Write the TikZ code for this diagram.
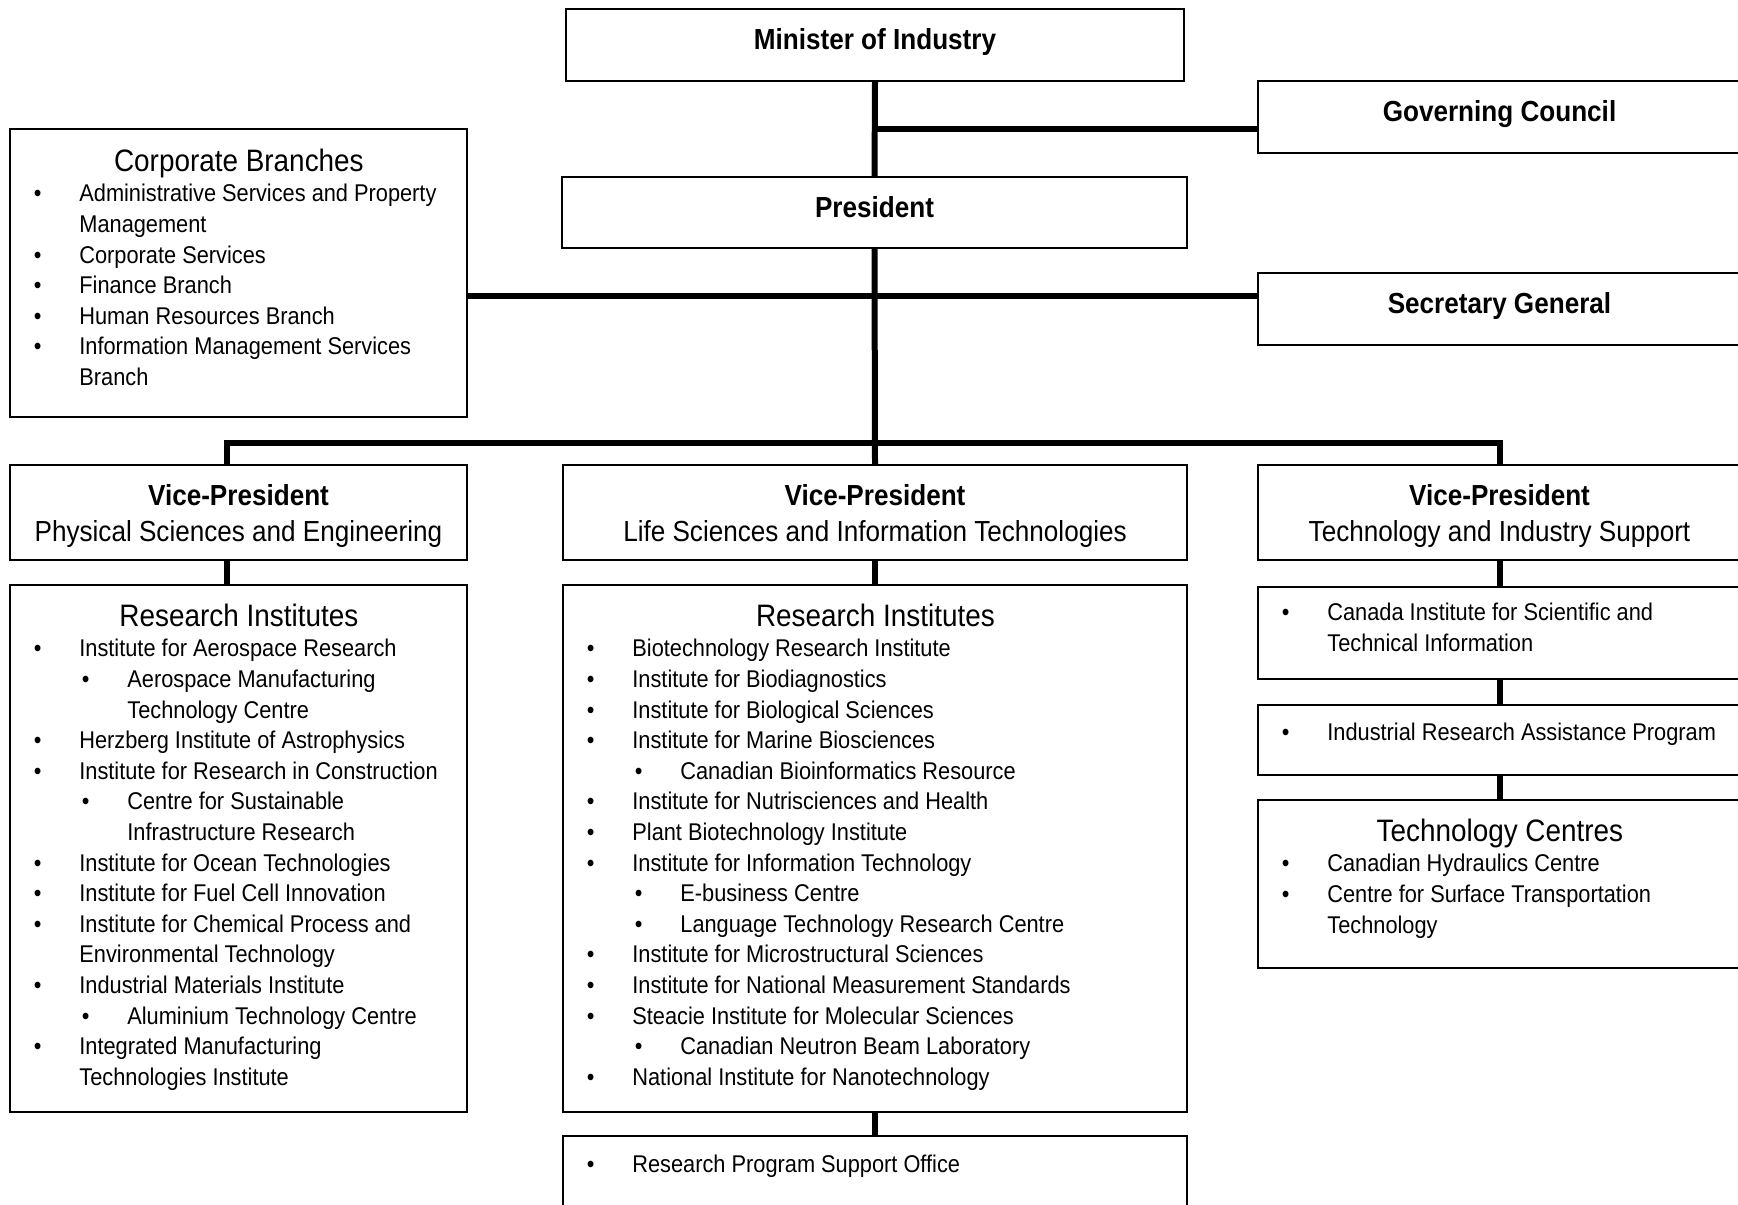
\documentclass[tikz,border=0pt]{standalone}
\usepackage{fontspec}
\setmainfont{Liberation Sans}[FakeStretch=0.9]
\usetikzlibrary{fit}

% fonts of the chart
\newcommand{\headfont}{\fontsize{14.5}{15.3}\selectfont\bfseries}
\newcommand{\sectfont}{\fontsize{15.5}{15.3}\selectfont}
\newcommand{\listfont}{\fontsize{12.1}{15.3}\selectfont}
% bullet items, first and second level
\newcommand{\itm}[1]{{\leftskip=34.5pt\rightskip=0pt plus 1fil\noindent\llap{\textbullet\hspace{19pt}}#1\par}}
\newcommand{\subitm}[1]{{\leftskip=58.5pt\rightskip=0pt plus 1fil\noindent\llap{\textbullet\hspace{19pt}}#1\par}}

\tikzset{
  box/.style={draw, line width=1.1pt, inner sep=0pt, outer sep=0pt},
  link/.style={line width=3pt},
  lbl/.style={inner sep=0pt, anchor=base},
  lst/.style={inner sep=0pt, anchor=base west}
}

\begin{document}
\begin{tikzpicture}[x=0.5pt, y=-0.5pt]
	 \clip (0, 0) rectangle (1738, 1204);

	 % boxes
	 \node[box, fit={(566, 9) (1184, 81)}] (minister) {};
	 \node[box, fit={(1258, 81) (1741, 153)}] (governing) {};
	 \node[box, fit={(562, 177) (1187, 248)}] (president) {};
	 \node[box, fit={(1258, 273) (1741, 345)}] (secretary) {};
	 \node[box, fit={(10, 129) (467, 417)}] (corporate) {};
	 \node[box, fit={(10, 465) (467, 560)}] (vp1) {};
	 \node[box, fit={(563, 465) (1187, 560)}] (vp2) {};
	 \node[box, fit={(1258, 465) (1741, 560)}] (vp3) {};
	 \node[box, fit={(10, 585) (467, 1112)}] (ri1) {};
	 \node[box, fit={(563, 585) (1187, 1112)}] (ri2) {};
	 \node[box, fit={(563, 1136) (1187, 1220)}] (rpso) {};
	 \node[box, fit={(1258, 587) (1741, 679)}] (cisti) {};
	 \node[box, fit={(1258, 705) (1741, 775)}] (irap) {};
	 \node[box, fit={(1258, 800) (1741, 968)}] (techc) {};

	 % connectors
	 \coordinate (busleft) at (227, 443);
	 \coordinate (busright) at (1499.5, 443);
	 \draw[link] (minister.south) -- (president.north);
	 \draw[link] ([yshift=-6pt]governing.west) -- ([yshift=-6pt]governing.west -| minister.south);
	 \draw[link] ([yshift=-11.5pt]corporate.east) -- ([yshift=-11.5pt]corporate.east -| secretary.west);
	 \draw[link] (president.south) -- (vp2.north);
	 \draw[link] (busleft |- vp1.north) -- (busleft) -- (busright) -- (vp3.north);
	 \draw[link] (vp1.south -| busleft) -- (ri1.north -| busleft);
	 \draw[link] (vp2.south) -- (ri2.north);
	 \draw[link] (ri2.south) -- (rpso.north);
	 \draw[link] (vp3.south) -- (cisti.north);
	 \draw[link] (cisti.south) -- (irap.north);
	 \draw[link] (irap.south) -- (techc.north);

	 % top titles
	 \node[lbl] (ministerlbl) at ([yshift=-20.25pt]minister.north) {\headfont Minister of Industry};
	 \node[lbl] (governinglbl) at ([yshift=-20.25pt]governing.north) {\headfont Governing Council};
	 \node[lbl] (presidentlbl) at ([yshift=-20.25pt]president.north) {\headfont President};
	 \node[lbl] (secretarylbl) at ([yshift=-20.25pt]secretary.north) {\headfont Secretary General};

	 \node[lst] (corporatelbl) at ([yshift=-21.1pt]corporate.north west) {\parbox[t]{228.5pt}{\listfont
	   {\centering\sectfont Corporate Branches\par}
	   \itm{Administrative Services and Property\\Management}
	   \itm{Corporate Services}
	   \itm{Finance Branch}
	   \itm{Human Resources Branch}
	   \itm{Information Management Services\\Branch}}};

	 % vice-presidents
	 \node[lbl] (vp1lbl) at ([yshift=-20.2pt]vp1.north) {\parbox[t]{228.5pt}{\centering\fontsize{14.5}{18}\selectfont
	   \textbf{Vice-President}\\Physical Sciences and Engineering}};
	 \node[lbl] (vp2lbl) at ([yshift=-20.2pt]vp2.north) {\parbox[t]{312pt}{\centering\fontsize{14.5}{18}\selectfont
	   \textbf{Vice-President}\\Life Sciences and Information Technologies}};
	 \node[lbl] (vp3lbl) at ([yshift=-20.2pt]vp3.north) {\parbox[t]{241.5pt}{\centering\fontsize{14.5}{18}\selectfont
	   \textbf{Vice-President}\\Technology and Industry Support}};

	 % research institutes
	 \node[lst] (ri1lbl) at ([yshift=-20.6pt]ri1.north west) {\parbox[t]{228.5pt}{\listfont
	   {\centering\sectfont Research Institutes\par}
	   \itm{Institute for Aerospace Research}
	   \subitm{Aerospace Manufacturing\\Technology Centre}
	   \itm{Herzberg Institute of Astrophysics}
	   \itm{Institute for Research in Construction}
	   \subitm{Centre for Sustainable\\Infrastructure Research}
	   \itm{Institute for Ocean Technologies}
	   \itm{Institute for Fuel Cell Innovation}
	   \itm{Institute for Chemical Process and\\Environmental Technology}
	   \itm{Industrial Materials Institute}
	   \subitm{Aluminium Technology Centre}
	   \itm{Integrated Manufacturing\\Technologies Institute}}};

	 \node[lst] (ri2lbl) at ([yshift=-20.6pt]ri2.north west) {\parbox[t]{312pt}{\listfont
	   {\centering\sectfont Research Institutes\par}
	   \itm{Biotechnology Research Institute}
	   \itm{Institute for Biodiagnostics}
	   \itm{Institute for Biological Sciences}
	   \itm{Institute for Marine Biosciences}
	   \subitm{Canadian Bioinformatics Resource}
	   \itm{Institute for Nutrisciences and Health}
	   \itm{Plant Biotechnology Institute}
	   \itm{Institute for Information Technology}
	   \subitm{E-business Centre}
	   \subitm{Language Technology Research Centre}
	   \itm{Institute for Microstructural Sciences}
	   \itm{Institute for National Measurement Standards}
	   \itm{Steacie Institute for Molecular Sciences}
	   \subitm{Canadian Neutron Beam Laboratory}
	   \itm{National Institute for Nanotechnology}}};

	 \node[lst] (rpsolbl) at ([yshift=-18.4pt]rpso.north west) {\parbox[t]{312pt}{\listfont
	   \itm{Research Program Support Office}}};

	 % technology and industry support
	 \node[lst] (cistilbl) at ([yshift=-16.9pt]cisti.north west) {\parbox[t]{241.5pt}{\listfont
	   \itm{Canada Institute for Scientific and\\Technical Information}}};
	 \node[lst] (iraplbl) at ([yshift=-17.9pt]irap.north west) {\parbox[t]{241.5pt}{\listfont
	   \itm{Industrial Research Assistance Program}}};
	 \node[lst] (techclbl) at ([yshift=-20.6pt]techc.north west) {\parbox[t]{241.5pt}{\listfont
	   {\centering\sectfont Technology Centres\par}
	   \itm{Canadian Hydraulics Centre}
	   \itm{Centre for Surface Transportation\\Technology}}};
\end{tikzpicture}
\end{document}
